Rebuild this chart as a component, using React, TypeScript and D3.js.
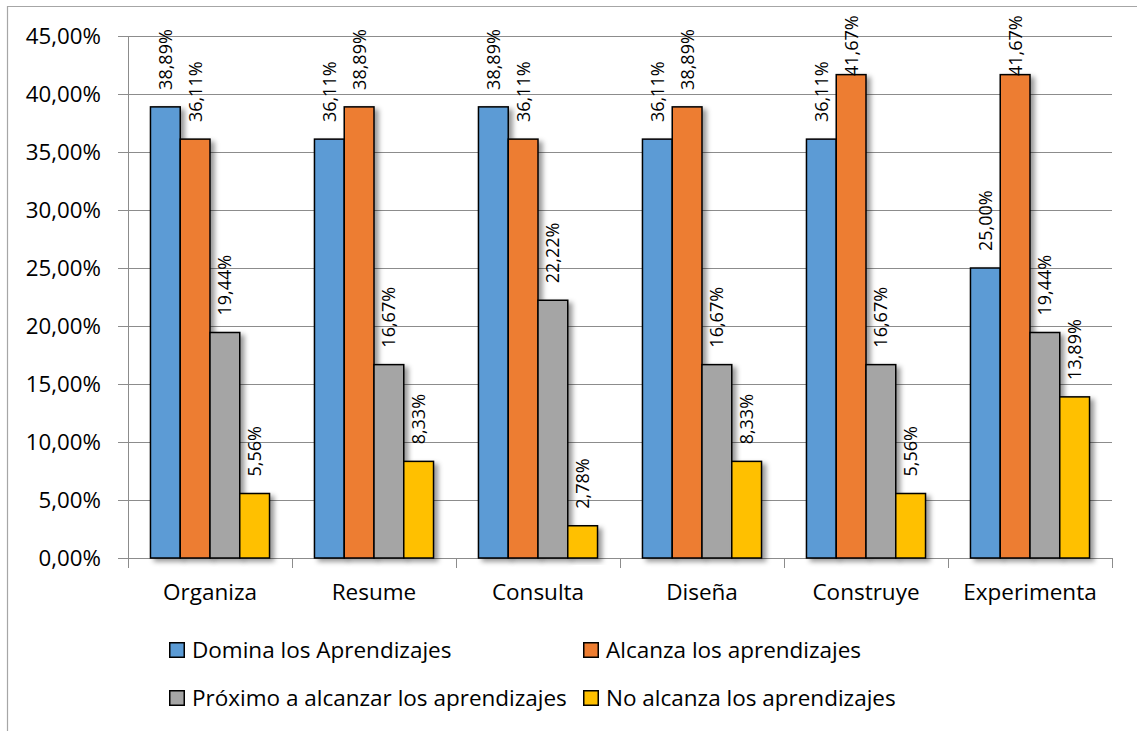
import React from "react";
import * as d3 from "d3";

const categories = ["Organiza", "Resume", "Consulta", "Diseña", "Construye", "Experimenta"];
const seriesNames = [
  "Domina los Aprendizajes",
  "Alcanza los aprendizajes",
  "Próximo a alcanzar los aprendizajes",
  "No alcanza los aprendizajes",
];
const seriesColors = ["#5B9BD5", "#ED7D31", "#A5A5A5", "#FFC000"];
const domina = [38.89, 36.11, 38.89, 36.11, 36.11, 25.0];
const alcanza = [36.11, 38.89, 36.11, 38.89, 41.67, 41.67];
const proximo = [19.44, 16.67, 22.22, 16.67, 16.67, 19.44];
const noAlcanza = [5.56, 8.33, 2.78, 8.33, 5.56, 13.89];
const seriesValues = [domina, alcanza, proximo, noAlcanza];
const yTicks = [0, 5, 10, 15, 20, 25, 30, 35, 40, 45];

const W = 1137;
const H = 731;
const FONT = "'Open Sans', 'Noto Sans', sans-serif";
const fmt = (v: number) => v.toFixed(2).replace(".", ",") + "%";

export default function App() {
  const left = 128, right = 1112, top = 36, bottom = 558;
  const y = d3.scaleLinear().domain([0, 45]).range([bottom, top]);
  const x0 = d3.scaleBand<string>().domain(categories).range([left, right]).paddingInner(0.274).paddingOuter(0.137);
  const x1 = d3.scaleBand<number>().domain([0, 1, 2, 3]).range([0, x0.bandwidth()]);
  const step = x0.step();
  const labelLen = 61;

  return (
    <svg width={W} height={H} style={{ position: "absolute", left: 0, top: 0, background: "#fff" }} fontFamily={FONT}>
      <defs>
        <filter id="sh" x="-30%" y="-10%" width="180%" height="130%">
          <feDropShadow dx="4" dy="3" stdDeviation="2.5" floodColor="#000" floodOpacity="0.4" />
        </filter>
      </defs>
      <rect x={0} y={0} width={W} height={H} fill="#fff" />
      {/* chart border */}
      <path d={`M7.5,${H + 5} L7.5,6.5 L${W + 5},6.5`} fill="none" stroke="#a6a6a6" strokeWidth={1.2} />
      {/* gridlines */}
      {yTicks.map((t) => (
        <g key={t}>
          <line x1={left - 10} x2={right} y1={y(t) + 0.5} y2={y(t) + 0.5} stroke="#8c8c8c" strokeWidth={1} />
          <text x={101} y={y(t)} dy="0.36em" textAnchor="end" fontSize={22.3} fill="#000">
            {fmt(t)}
          </text>
        </g>
      ))}
      {/* y axis */}
      <line x1={left + 0.5} x2={left + 0.5} y1={top} y2={bottom + 10} stroke="#8c8c8c" strokeWidth={1} />
      {/* x ticks */}
      {categories.map((c, i) => (
        <line key={c} x1={left + step * (i + 1) + 0.5} x2={left + step * (i + 1) + 0.5} y1={bottom} y2={bottom + 10} stroke="#8c8c8c" strokeWidth={1} />
      ))}
      {/* bars */}
      {categories.map((c, ci) => (
        <g key={c}>
          {seriesValues.map((vals, si) => {
            const bx = (x0(c) as number) + (x1(si) as number);
            const by = y(vals[ci]);
            return (
              <rect key={si} x={bx} y={by} width={x1.bandwidth()} height={bottom - by} fill={seriesColors[si]} stroke="#000" strokeWidth={1.5} filter="url(#sh)" />
            );
          })}
        </g>
      ))}
      {/* labels */}
      {categories.map((c, ci) => (
        <g key={c}>
          {seriesValues.map((vals, si) => {
            const cx = (x0(c) as number) + (x1(si) as number) + x1.bandwidth() / 2;
            const ly = Math.max(y(vals[ci]) - 17, 15 + labelLen);
            return (
              <text key={si} transform={`translate(${cx},${ly}) rotate(-90)`} dy="0.36em" fontSize={18} fill="#000">
                {fmt(vals[ci])}
              </text>
            );
          })}
        </g>
      ))}
      {/* category labels */}
      {categories.map((c) => (
        <text key={c} x={(x0(c) as number) + x0.bandwidth() / 2} y={600} textAnchor="middle" fontSize={22.5} fill="#000">
          {c}
        </text>
      ))}
      {/* legend */}
      {seriesNames.map((n, i) => {
        const lx = i % 2 === 0 ? 169 : 583;
        const ly = i < 2 ? 642 : 690;
        return (
          <g key={n}>
            <rect x={lx + 0.75} y={ly + 0.75} width={14.5} height={14.5} fill={seriesColors[i]} stroke="#000" strokeWidth={1.5} />
            <text x={lx + 23} y={ly + 8} dy="0.36em" fontSize={22.5} fill="#000">
              {n}
            </text>
          </g>
        );
      })}
    </svg>
  );
}
